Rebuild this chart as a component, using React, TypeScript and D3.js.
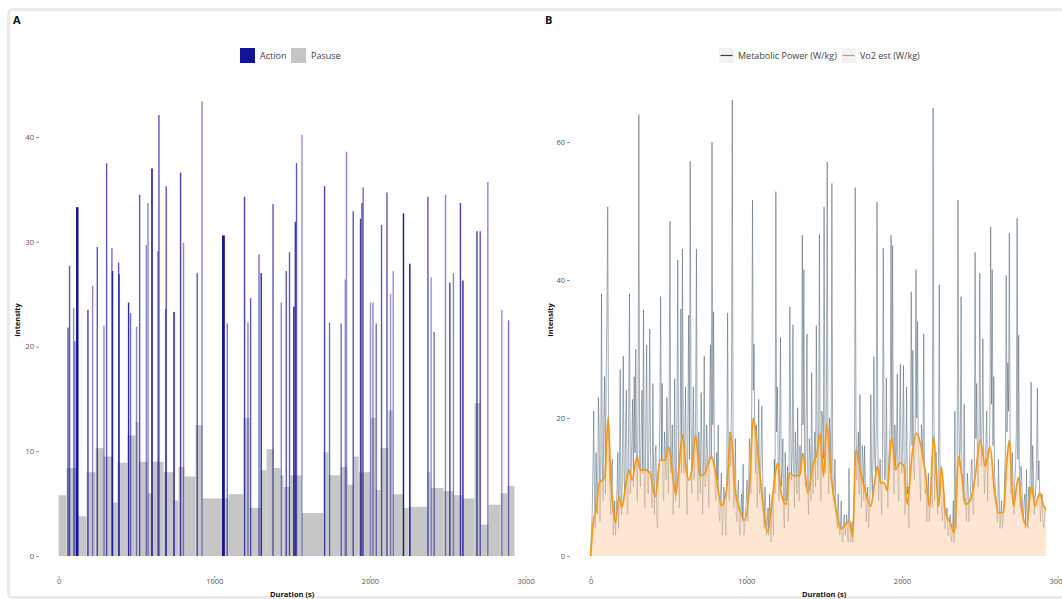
import React, { useEffect, useRef } from "react";
import * as d3 from "d3";

// ---- panel A data ----
// pause steps: boundaries (s) and intensity level of each step
const pauseBreaks = [0, 51, 112, 180, 238, 289, 347, 379, 443, 495, 514, 572, 604, 674, 739, 771, 809, 880, 925, 1092, 1188, 1227, 1297, 1336, 1381, 1426, 1445, 1490, 1561, 1702, 1734, 1811, 1856, 1895, 1927, 2004, 2036, 2068, 2119, 2145, 2216, 2248, 2370, 2389, 2473, 2537, 2595, 2672, 2710, 2762, 2839, 2884, 2929];
const pauseLevels = [5.8, 8.4, 3.8, 8.0, 10.3, 9.5, 5.1, 8.9, 11.5, 12.8, 9.0, 6.0, 9.0, 8.0, 5.3, 8.5, 7.6, 12.5, 5.5, 5.9, 13.2, 4.6, 8.2, 10.2, 8.4, 7.7, 6.6, 7.7, 4.1, 9.9, 7.7, 8.5, 6.8, 9.5, 8.0, 13.2, 6.3, 10.3, 13.9, 5.9, 4.6, 4.7, 8.0, 6.5, 6.2, 5.8, 5.5, 14.6, 3.0, 4.9, 6.0, 6.7];

// actions: [start (s), duration (s), intensity, alpha]
const actions = [
  [56, 7, 21.8, 0.6], [66, 7, 27.7, 0.6], [92, 6, 23.7, 0.4], [100, 6, 20.5, 0.5], [112, 16, 33.3, 1],
  [184, 8, 23.5, 0.7], [214, 6, 25.8, 0.4], [244, 8, 29.5, 0.6], [287, 6, 22.0, 0.4], [304, 8, 37.5, 0.6],
  [338, 6, 29.4, 0.5], [342, 8, 27.2, 0.8], [381, 6, 28.0, 0.6], [385, 7, 26.9, 0.6], [445, 8, 24.2, 0.8],
  [458, 6, 23.2, 0.5], [496, 6, 21.9, 0.4], [516, 8, 34.5, 0.6], [559, 6, 29.7, 0.4], [570, 7, 33.7, 0.4],
  [595, 10, 37.0, 0.9], [634, 7, 29.1, 0.5], [640, 8, 42.1, 0.6], [683, 6, 23.6, 0.5], [687, 8, 35.3, 0.6],
  [737, 9, 23.3, 1], [779, 9, 36.6, 0.7], [798, 6, 29.9, 0.4], [886, 8, 27.0, 0.6], [917, 6, 43.4, 0.4],
  [1050, 18, 30.6, 1], [1079, 6, 22.2, 0.5], [1190, 9, 34.3, 0.7], [1212, 6, 22.3, 0.4], [1229, 7, 24.6, 0.6],
  [1283, 7, 28.8, 0.5], [1297, 9, 27.0, 0.8], [1373, 8, 33.6, 0.6], [1426, 6, 24.2, 0.4], [1458, 7, 27.2, 0.6],
  [1479, 8, 29.0, 0.6], [1507, 9, 23.8, 0.9], [1516, 8, 31.9, 0.7], [1524, 8, 37.5, 0.6], [1559, 6, 40.2, 0.35],
  [1704, 9, 35.3, 0.7], [1736, 6, 22.3, 0.5], [1811, 6, 22.2, 0.5], [1837, 6, 26.4, 0.35], [1845, 6, 38.6, 0.4],
  [1888, 8, 32.9, 0.6], [1935, 8, 32.2, 0.7], [1944, 8, 33.7, 0.6], [1952, 7, 35.2, 0.5], [1999, 6, 24.2, 0.35],
  [2015, 6, 24.2, 0.4], [2036, 6, 22.2, 0.5], [2070, 8, 31.6, 0.6], [2105, 8, 34.7, 0.6], [2128, 6, 25.0, 0.35],
  [2145, 6, 27.2, 0.35], [2211, 9, 32.7, 1], [2252, 9, 27.9, 0.9], [2368, 8, 34.3, 0.6], [2389, 6, 26.6, 0.35],
  [2408, 6, 21.4, 0.5], [2481, 6, 34.5, 0.4], [2509, 8, 26.1, 0.7], [2532, 6, 27.0, 0.4], [2577, 9, 33.7, 0.7],
  [2593, 9, 26.3, 0.8], [2683, 8, 31.0, 0.7], [2704, 8, 31.0, 0.6], [2753, 6, 35.7, 0.4], [2843, 6, 23.5, 0.35],
  [2886, 7, 22.5, 0.5],
];

// ---- panel B data ----
// metabolic power, one value every 10 s (t = 0, 10, 20 ...)
const metStep = 10;
const metPower = [
  0, 6, 21, 4, 9, 23, 5, 38, 8, 26,
  26.5, 50.6, 12, 6, 14, 5, 3, 10, 4, 27,
  6, 29, 9, 24, 7, 38, 12, 22.7, 26, 30,
  8, 64, 10, 24, 35.7, 7, 30.6, 9, 32.9, 11,
  25, 6, 16, 4, 13, 37.6, 25, 8, 15, 23,
  9, 48.5, 14, 6, 25.7, 10, 42.9, 7, 35.8, 44.5,
  12, 24.5, 6, 34.9, 57.2, 9, 24.5, 13, 44.5, 8,
  14, 23.7, 6, 29, 11, 16, 7, 30.6, 60, 35.4,
  10, 15, 19, 5, 12, 4, 9, 3, 35.2, 8,
  13, 66.1, 7, 17, 5, 11, 3, 9, 13.3, 4,
  8, 5, 17, 9, 51.6, 30.7, 12, 7, 22.7, 10,
  21.7, 6, 10, 3, 7, 9, 2, 6, 14, 52.8,
  24.5, 8, 31.7, 12, 6, 15, 9, 5, 36.1, 11,
  33.5, 7, 14, 21.5, 8, 12, 46.5, 41.5, 10, 32.2,
  6, 15, 26.6, 9, 18, 33.4, 11, 46.6, 8, 20,
  50.6, 12, 57.1, 9, 17, 54, 8, 14, 5, 9,
  3, 8, 2, 6, 4, 3, 12.7, 2, 5, 4,
  53.4, 11, 18, 23.4, 7, 14, 16, 5, 10, 6,
  23.4, 9, 28.9, 12, 51.3, 8, 14, 6, 44.6, 11,
  25.8, 7, 16, 46.5, 45, 9, 13, 26.4, 8, 27.8,
  12, 27.6, 6, 24.5, 10, 15, 38.3, 29.8, 11, 41.5,
  34, 13, 8, 17, 32.2, 9, 5, 12, 6, 10,
  64.9, 8, 15, 6, 39.3, 11, 5, 9, 4, 7,
  3, 6, 2, 8, 21, 4, 51.6, 13, 37.6, 10,
  22, 7, 12, 5, 9, 14, 6, 44, 25, 10,
  41, 13, 31.5, 9, 17, 8, 15, 47.7, 41.5, 26,
  10, 6, 14, 4, 8, 5, 12, 40.7, 28, 46.8,
  9, 15, 6, 13, 49, 32, 7, 11, 5, 9,
  12.5, 4, 8, 25.2, 16, 6, 10, 24.3, 13.8, 5,
  9, 4, 7,
];
// metabolic power read at the half steps (t = 5, 15, 25 ...)
const metPowerHalf = [
  3, 12, 8, 15, 6, 18, 11, 14, 20, 9,
  35, 18, 9, 13, 3, 8, 6, 15, 12, 7,
  16, 11, 19, 6, 22, 9, 17, 10, 15, 13,
  21, 14, 18, 12, 9, 20, 13, 18, 14, 7,
  12, 15, 5, 11, 20, 14, 9, 18, 11, 14,
  24, 12, 19, 11, 8, 21, 13, 16, 12, 20,
  17, 10, 19, 14, 21, 16, 11, 22, 13, 18,
  9, 16, 13, 10, 19, 12, 22, 14, 19, 15,
  8, 11, 6, 9, 3, 10, 5, 12, 14, 18,
  22, 16, 11, 6, 9, 4, 7, 5, 3, 6,
  11, 9, 15, 21, 24, 16, 19, 13, 9, 15,
  12, 4, 7, 5, 3, 4, 8, 3, 9, 18,
  14, 19, 10, 17, 4, 8, 13, 12, 20, 15,
  12, 18, 9, 11, 16, 13, 19, 14, 21, 10,
  17, 8, 12, 14, 10, 19, 16, 13, 21, 14,
  19, 24, 14, 20, 12, 15, 10, 7, 4, 6,
  4, 2, 5, 3, 6, 2, 4, 3, 2, 9,
  19, 14, 9, 12, 16, 8, 11, 7, 4, 9,
  12, 16, 14, 19, 17, 11, 9, 15, 18, 13,
  11, 14, 20, 17, 12, 19, 15, 10, 18, 14,
  17, 11, 13, 9, 4, 19, 16, 13, 18, 20,
  16, 11, 19, 14, 12, 10, 8, 5, 9, 7,
  22, 13, 10, 14, 9, 6, 8, 4, 6, 3,
  5, 3, 4, 2, 6, 14, 20, 16, 12, 8,
  9, 5, 10, 8, 13, 7, 11, 17, 14, 16,
  18, 20, 15, 12, 21, 14, 19, 22, 16, 12,
  8, 5, 9, 6, 4, 7, 15, 18, 21, 17,
  12, 8, 11, 18, 14, 10, 13, 6, 8, 4,
  6, 10, 13, 9, 12, 8, 14, 11, 9, 7,
  6, 5,
];

// Vo2 estimate: [time (s), value]
const vo2 = [
  [0, 0], [19, 5.2], [36, 6.7], [55, 10.6], [77, 11], [92, 11.6], [113, 20.1], [128, 12], [145, 6.7], [160, 4.8],
  [181, 8.6], [202, 7.1], [224, 10], [245, 12.5], [266, 11], [298, 14.4], [319, 12.5], [351, 12.5], [383, 12], [415, 8.6],
  [447, 13.9], [479, 13.9], [500, 15.8], [526, 12], [547, 8.9], [568, 13], [590, 17.5], [611, 13], [632, 11], [650, 12.5],
  [675, 17.5], [703, 11.6], [735, 12], [756, 13.5], [777, 14.4], [799, 12.5], [841, 7.3], [873, 9.5], [901, 17.8], [926, 10],
  [958, 6.7], [990, 5.2], [1022, 10.6], [1045, 20], [1075, 14.9], [1107, 7.5], [1139, 3.5], [1171, 9.1], [1203, 13.5], [1224, 9.1],
  [1256, 7.5], [1278, 12], [1310, 11.6], [1342, 11.6], [1363, 14.9], [1395, 9.1], [1427, 13], [1455, 15], [1474, 17.8], [1496, 11.5],
  [1517, 19.2], [1545, 11.5], [1577, 6.7], [1608, 3.9], [1636, 4.5], [1662, 5.1], [1683, 2.8], [1704, 15.4], [1736, 12], [1768, 9.1],
  [1800, 7.2], [1821, 10], [1842, 13], [1864, 10.6], [1885, 10.6], [1906, 9.5], [1934, 17.3], [1960, 12.5], [1985, 13.5], [2013, 13],
  [2034, 7.5], [2066, 14.9], [2092, 17.8], [2119, 16.3], [2151, 12], [2177, 7.2], [2204, 17.3], [2236, 7.2], [2253, 13], [2279, 6.3],
  [2311, 4.8], [2337, 3.4], [2364, 14.4], [2385, 11.6], [2407, 7.5], [2439, 8], [2471, 11.6], [2503, 16.8], [2535, 13], [2567, 15.8],
  [2594, 9.5], [2620, 6.3], [2652, 6.3], [2673, 13.5], [2690, 16.8], [2716, 7.2], [2748, 11.4], [2773, 6.3], [2801, 4.4], [2833, 10.2],
  [2854, 7.2], [2886, 9.1], [2907, 7.5], [2925, 6.7],
];

const xTicks = [0, 1000, 2000, 3000];
const yTicksA = [0, 10, 20, 30, 40];
const yTicksB = [0, 20, 40, 60];

const FONT = "'Open Sans', 'DejaVu Sans', sans-serif";
const BLUE = "#141496";
const GREY = "#c6c6c6";
const ORANGE = "#f39a1e";

export default function App() {
  const ref = useRef<SVGSVGElement>(null);

  useEffect(() => {
    const svg = d3.select(ref.current);
    svg.selectAll("*").remove();

    // window frame
    svg.append("rect")
      .attr("x", 8.5).attr("y", 9.5).attr("width", 1100).attr("height", 588)
      .attr("rx", 4).attr("fill", "none").attr("stroke", "#ebebeb").attr("stroke-width", 3);

    const xA = d3.scaleLinear().domain([0, 3000]).range([58.6, 525.6]);
    const yA = d3.scaleLinear().domain([0, 40]).range([556, 137]);
    const xB = d3.scaleLinear().domain([0, 3000]).range([590.6, 1057.6]);
    const yB = d3.scaleLinear().domain([0, 60]).range([556, 142]);

    const axes = (x, y, yTicks, left, yAxisX, titleX, tag) => {
      const g = svg.append("g");
      g.append("text").attr("x", left + 5).attr("y", 24).text(tag)
        .attr("font-family", FONT).attr("font-weight", "bold").attr("font-size", 11).attr("fill", "#111");

      const ya = g.append("g").attr("transform", `translate(${yAxisX},0)`)
        .call(d3.axisLeft(y).tickValues(yTicks).tickSize(3).tickPadding(2));
      ya.select(".domain").remove();
      ya.selectAll("line").attr("stroke", "#999");
      ya.selectAll("text").attr("font-family", FONT).attr("font-size", 7.5).attr("fill", "#555");

      const xa = g.append("g").attr("transform", `translate(0,576)`)
        .call(d3.axisBottom(x).tickValues(xTicks).tickSize(2).tickPadding(1).tickFormat(d3.format("d")));
      xa.select(".domain").remove();
      xa.selectAll("line").attr("stroke", "#999");
      xa.selectAll("text").attr("font-family", FONT).attr("font-size", 7.5).attr("fill", "#555");

      g.append("text").text("Duration (s)")
        .attr("x", (x(0) + x(3000)) / 2).attr("y", 597).attr("text-anchor", "middle")
        .attr("font-family", FONT).attr("font-weight", "bold").attr("font-size", 7.5).attr("fill", "#111");
      g.append("text").text("Intensity")
        .attr("transform", `translate(${titleX},320) rotate(-90)`)
        .attr("text-anchor", "middle")
        .attr("font-family", FONT).attr("font-weight", "bold").attr("font-size", 7.5).attr("fill", "#111");
    };

    axes(xA, yA, yTicksA, 8, 39, 20, "A");
    axes(xB, yB, yTicksB, 540, 570, 553, "B");

    // ---- panel A marks ----
    const pauses = pauseLevels.map((v, i) => ({ t0: pauseBreaks[i], t1: pauseBreaks[i + 1], v }));
    svg.append("g").selectAll("rect").data(pauses).enter().append("rect")
      .attr("x", d => xA(d.t0)).attr("width", d => xA(d.t1) - xA(d.t0))
      .attr("y", d => yA(d.v)).attr("height", d => yA(0) - yA(d.v))
      .attr("fill", GREY);

    svg.append("g").selectAll("rect").data(actions).enter().append("rect")
      .attr("x", d => xA(d[0])).attr("width", d => Math.max(1.4, xA(d[0] + d[1]) - xA(d[0])))
      .attr("y", d => yA(d[2])).attr("height", d => yA(0) - yA(d[2]))
      .attr("fill", BLUE).attr("fill-opacity", d => Math.min(1, d[3] + 0.1));

    // legend A
    const lA = svg.append("g");
    lA.append("rect").attr("x", 240).attr("y", 48).attr("width", 15).attr("height", 15).attr("fill", BLUE);
    lA.append("text").attr("x", 260).attr("y", 59).text("Action");
    lA.append("rect").attr("x", 291).attr("y", 48).attr("width", 15).attr("height", 15).attr("fill", GREY);
    lA.append("text").attr("x", 311).attr("y", 59).text("Pasuse");
    lA.selectAll("text").attr("font-family", FONT).attr("font-size", 9).attr("fill", "#444");

    // ---- panel B marks ----
    const metPoints: number[][] = [];
    metPower.forEach((v, i) => {
      metPoints.push([i * metStep, v]);
      if (i < metPowerHalf.length) metPoints.push([i * metStep + metStep / 2, metPowerHalf[i]]);
    });
    const metLine = d3.line<number[]>().x(d => xB(d[0])).y(d => yB(d[1]));
    svg.append("path").datum(metPoints).attr("d", metLine)
      .attr("fill", "none").attr("stroke", "#425a6c").attr("stroke-opacity", 0.55).attr("stroke-width", 0.9);

    const vArea = d3.area<number[]>().x(d => xB(d[0])).y0(yB(0)).y1(d => yB(d[1])).curve(d3.curveMonotoneX);
    svg.append("path").datum(vo2).attr("d", vArea).attr("fill", "#fdd3ad").attr("fill-opacity", 0.55);

    const vLine = d3.line<number[]>().x(d => xB(d[0])).y(d => yB(d[1])).curve(d3.curveMonotoneX);
    svg.append("path").datum(vo2).attr("d", vLine)
      .attr("fill", "none").attr("stroke", ORANGE).attr("stroke-width", 1.8);

    // legend B
    const lB = svg.append("g");
    lB.append("rect").attr("x", 719).attr("y", 48).attr("width", 15).attr("height", 15).attr("fill", "#f2f2f2");
    lB.append("line").attr("x1", 720.5).attr("x2", 732.5).attr("y1", 55.5).attr("y2", 55.5)
      .attr("stroke", "#2c3e50").attr("stroke-width", 1.2);
    lB.append("text").attr("x", 738).attr("y", 59).text("Metabolic Power (W/kg)");
    lB.append("rect").attr("x", 841).attr("y", 48).attr("width", 15).attr("height", 15).attr("fill", "#f2f2f2");
    lB.append("line").attr("x1", 842.5).attr("x2", 854.5).attr("y1", 55.5).attr("y2", 55.5)
      .attr("stroke", ORANGE).attr("stroke-width", 1.2);
    lB.append("text").attr("x", 860).attr("y", 59).text("Vo2 est (W/kg)");
    lB.selectAll("text").attr("font-family", FONT).attr("font-size", 9).attr("fill", "#444");
  }, []);

  return (
    <svg ref={ref} width={1062} height={599}
      style={{ position: "fixed", left: 0, top: 0, background: "#fff" }} />
  );
}
